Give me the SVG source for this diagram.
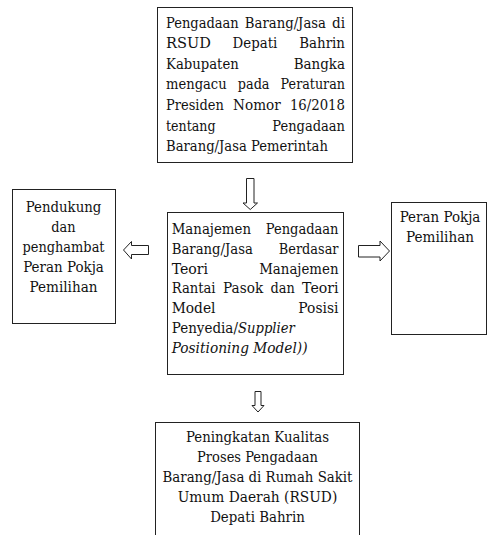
<svg xmlns="http://www.w3.org/2000/svg" width="487" height="535" viewBox="0 0 487 535">
<style>
  .box { fill: #ffffff; stroke: #222222; stroke-width: 1; }
  .arrow { fill: #ffffff; stroke: #222222; stroke-width: 1; stroke-linejoin: miter; }
  text { font-family: 'DejaVu Serif', 'Liberation Serif', serif; font-size: 15.3px; fill: #111111; }
  .c { text-anchor: middle; }
  .e { text-anchor: end; }
  .i { font-style: italic; }
</style>
<rect width="487" height="535" fill="#ffffff"/>

<g id="connectors">
  <polygon class="arrow" points="246.5,178.5 254,178.5 254,203 257.5,203 250.25,209.5 243,203 246.5,203"/>
  <polygon class="arrow" points="148.5,245.5 148.5,254.5 131.5,254.5 131.5,259 123.5,250 131.5,241.5 131.5,245.5"/>
  <polygon class="arrow" points="358.5,245.5 380,245.5 380,241 389.5,251 380,261 380,257 358.5,257"/>
  <polygon class="arrow" points="255,391.5 261,391.5 261,405.5 264,405.5 258,412 252,405.5 255,405.5"/>
</g>

<g id="node-top">
  <rect class="box" x="157.5" y="7.5" width="195" height="155"/>
  <text x="166" y="27.5" textLength="72.78" lengthAdjust="spacingAndGlyphs">Pengadaan</text>
  <text x="244.8" y="27.5" textLength="81.18" lengthAdjust="spacingAndGlyphs">Barang/Jasa</text>
  <text class="e" x="345" y="27.5" textLength="13.07" lengthAdjust="spacingAndGlyphs">di</text>
  <text x="166" y="48.1" textLength="44.81" lengthAdjust="spacingAndGlyphs">RSUD</text>
  <text x="232.6" y="48.1" textLength="44.79" lengthAdjust="spacingAndGlyphs">Depati</text>
  <text class="e" x="345" y="48.1" textLength="45.73" lengthAdjust="spacingAndGlyphs">Bahrin</text>
  <text x="166" y="68.7" textLength="72.78" lengthAdjust="spacingAndGlyphs">Kabupaten</text>
  <text class="e" x="345" y="68.7" textLength="51.32" lengthAdjust="spacingAndGlyphs">Bangka</text>
  <text x="166" y="89.3" textLength="60.65" lengthAdjust="spacingAndGlyphs">mengacu</text>
  <text x="237.8" y="89.3" textLength="31.72" lengthAdjust="spacingAndGlyphs">pada</text>
  <text class="e" x="345" y="89.3" textLength="64.38" lengthAdjust="spacingAndGlyphs">Peraturan</text>
  <text x="166" y="109.9" textLength="57.86" lengthAdjust="spacingAndGlyphs">Presiden</text>
  <text x="233.1" y="109.9" textLength="47.59" lengthAdjust="spacingAndGlyphs">Nomor</text>
  <text class="e" x="345" y="109.9" textLength="55.07" lengthAdjust="spacingAndGlyphs">16/2018</text>
  <text x="166" y="130.5" textLength="49.46" lengthAdjust="spacingAndGlyphs">tentang</text>
  <text class="e" x="345" y="130.5" textLength="72.78" lengthAdjust="spacingAndGlyphs">Pengadaan</text>
  <text x="166" y="151.1" textLength="161.9" lengthAdjust="spacingAndGlyphs">Barang/Jasa Pemerintah</text>
</g>

<g id="node-left">
  <rect class="box" x="12.5" y="189.5" width="103" height="134"/>
  <text class="c" x="63.5" y="211.7" textLength="75.6" lengthAdjust="spacingAndGlyphs">Pendukung</text>
  <text class="c" x="63.5" y="231.7" textLength="24.26" lengthAdjust="spacingAndGlyphs">dan</text>
  <text class="c" x="63.5" y="251.7" textLength="82.12" lengthAdjust="spacingAndGlyphs">penghambat</text>
  <text class="c" x="63.5" y="271.7" textLength="80.72" lengthAdjust="spacingAndGlyphs">Peran Pokja</text>
  <text class="c" x="63.5" y="291.7" textLength="68.14" lengthAdjust="spacingAndGlyphs">Pemilihan</text>
</g>

<g id="node-center">
  <rect class="box" x="167.5" y="212.5" width="176" height="162"/>
  <text x="171.7" y="234" textLength="79.31" lengthAdjust="spacingAndGlyphs">Manajemen</text>
  <text class="e" x="338.5" y="234" textLength="72.78" lengthAdjust="spacingAndGlyphs">Pengadaan</text>
  <text x="171.7" y="253.8" textLength="81.18" lengthAdjust="spacingAndGlyphs">Barang/Jasa</text>
  <text class="e" x="338.5" y="253.8" textLength="59.71" lengthAdjust="spacingAndGlyphs">Berdasar</text>
  <text x="171.7" y="273.6" textLength="36.39" lengthAdjust="spacingAndGlyphs">Teori</text>
  <text class="e" x="338.5" y="273.6" textLength="79.31" lengthAdjust="spacingAndGlyphs">Manajemen</text>
  <text x="171.7" y="293.4" textLength="43.86" lengthAdjust="spacingAndGlyphs">Rantai</text>
  <text x="223" y="293.4" textLength="40.14" lengthAdjust="spacingAndGlyphs">Pasok</text>
  <text x="270.5" y="293.4" textLength="24.26" lengthAdjust="spacingAndGlyphs">dan</text>
  <text class="e" x="338.5" y="293.4" textLength="36.39" lengthAdjust="spacingAndGlyphs">Teori</text>
  <text x="171.7" y="313.2" textLength="43.86" lengthAdjust="spacingAndGlyphs">Model</text>
  <text class="e" x="338.5" y="313.2" textLength="40.15" lengthAdjust="spacingAndGlyphs">Posisi</text>
  <text x="171.7" y="333" textLength="66.26" lengthAdjust="spacingAndGlyphs">Penyedia/</text>
  <text x="237.96" y="333" class="i" textLength="56.94" lengthAdjust="spacingAndGlyphs">Supplier</text>
  <text x="171.7" y="352.8" class="i" textLength="135.8" lengthAdjust="spacingAndGlyphs">Positioning Model))</text>
</g>

<g id="node-right">
  <rect class="box" x="391.5" y="202.5" width="95" height="132"/>
  <text class="c" x="440" y="221.7" textLength="80.72" lengthAdjust="spacingAndGlyphs">Peran Pokja</text>
  <text class="c" x="440" y="241.7" textLength="68.14" lengthAdjust="spacingAndGlyphs">Pemilihan</text>
</g>

<g id="node-bottom">
  <rect class="box" x="155.5" y="422.5" width="204" height="120"/>
  <text class="c" x="257.5" y="442" textLength="143.25" lengthAdjust="spacingAndGlyphs">Peningkatan Kualitas</text>
  <text class="c" x="257.5" y="462" textLength="120.84" lengthAdjust="spacingAndGlyphs">Proses Pengadaan</text>
  <text class="c" x="257.5" y="482" textLength="189.9" lengthAdjust="spacingAndGlyphs">Barang/Jasa di Rumah Sakit</text>
  <text class="c" x="257.5" y="502" textLength="159.57" lengthAdjust="spacingAndGlyphs">Umum Daerah (RSUD)</text>
  <text class="c" x="257.5" y="522" textLength="94.72" lengthAdjust="spacingAndGlyphs">Depati Bahrin</text>
</g>
</svg>
